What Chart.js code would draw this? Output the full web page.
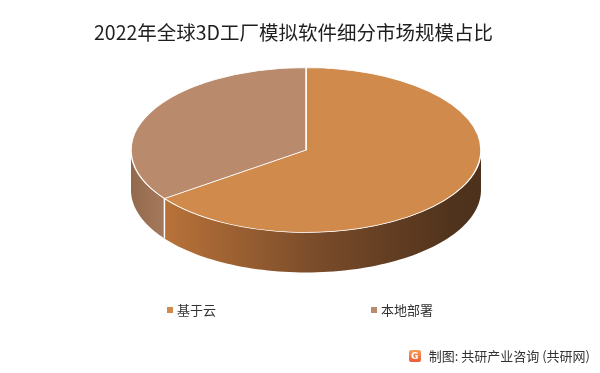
<!DOCTYPE html>
<html><head><meta charset="utf-8">
<script src="https://cdn.jsdelivr.net/npm/chart.js@4"></script>
<style>
html,body{margin:0;padding:0;background:#fff;}
#wrap{position:relative;width:600px;height:373px;font-family:"Noto Sans CJK SC","Noto Sans",sans-serif;overflow:hidden;}
#c{position:absolute;left:0;top:0;}
#title{position:absolute;left:0;width:587px;top:18px;text-align:center;font-size:19.5px;line-height:28px;color:#1e1e1e;}
#legend{position:absolute;left:0;width:600px;top:300px;display:flex;justify-content:center;gap:155px;font-size:13px;color:#333;}
.item{display:flex;align-items:center;}
.sw{width:6px;height:6px;margin-right:4px;}
#credit{position:absolute;right:10px;top:346px;font-size:13px;color:#333;display:flex;align-items:center;}
.logo{width:12px;height:12px;border-radius:2px;background:linear-gradient(#f9a05a,#ec5a38);color:#fff;font:bold 9px "DejaVu Sans",sans-serif;display:flex;align-items:center;justify-content:center;margin-right:8px;}
</style></head>
<body>
<div id="wrap">
<canvas id="c" width="600" height="373"></canvas>
<div id="title"></div>
<div id="legend"></div>
<div id="credit"><span class="logo">G</span><span id="creditText"></span></div>
</div>
<script>
const categories = ['基于云', '本地部署'];
const shares = [65, 35];
const topColors = ['#D08A4C', '#BA8A6C'];
const sideStops = [
  [[0, '#c07a40'], [0.1, '#b87239'], [0.55, '#774a29'], [0.9, '#52341d'], [1, '#4d311c']],
  [[0, '#93694d'], [0.1, '#a57a5c'], [1, '#a57a5c']]
];
const titleText = '2022年全球3D工厂模拟软件细分市场规模占比';
const creditText = '制图: 共研产业咨询 (共研网)';

const TILT = 0.471, DEPTH = 40;

const pie3d = {
  id: 'pie3d',
  beforeDatasetsDraw(chart) {
    const ctx = chart.ctx;
    const arcs = chart.getDatasetMeta(0).data;
    if (!arcs.length) { ctx.save(); return; }
    const cx = arcs[0].x, cy = arcs[0].y, r = arcs[0].outerRadius;
    const ry = r * TILT;
    const P = (t, d) => [cx + r * Math.cos(t), cy + ry * Math.sin(t) + d];
    arcs.forEach((arc, i) => {
      [0, 2 * Math.PI].forEach(off => {
        const a = Math.max(arc.startAngle, off), b = Math.min(arc.endAngle, off + Math.PI);
        if (b <= a) return;
        const g = ctx.createLinearGradient(cx - r, 0, cx + r, 0);
        sideStops[i].forEach(s => g.addColorStop(s[0], s[1]));
        const n = 80;
        ctx.beginPath();
        for (let k = 0; k <= n; k++) { const p = P(a + (b - a) * k / n, 0); k ? ctx.lineTo(p[0], p[1]) : ctx.moveTo(p[0], p[1]); }
        for (let k = n; k >= 0; k--) { const p = P(a + (b - a) * k / n, DEPTH); ctx.lineTo(p[0], p[1]); }
        ctx.closePath();
        ctx.fillStyle = g;
        ctx.fill();
      });
    });
    ctx.strokeStyle = '#ffffff';
    ctx.lineWidth = 1.5;
    arcs.forEach(arc => {
      const t = arc.endAngle % (2 * Math.PI);
      if (t > 0 && t < Math.PI) {
        const p = P(t, 0), q = P(t, DEPTH);
        ctx.beginPath(); ctx.moveTo(p[0], p[1]); ctx.lineTo(q[0], q[1]); ctx.stroke();
      }
    });
    ctx.save();
    ctx.translate(cx, cy);
    ctx.scale(1, TILT);
    ctx.translate(-cx, -cy);
  },
  afterDatasetsDraw(chart) { chart.ctx.restore(); }
};

new Chart(document.getElementById('c'), {
  type: 'pie',
  data: {
    labels: categories,
    datasets: [{
      data: shares,
      backgroundColor: topColors,
      borderColor: '#ffffff',
      borderWidth: 1.5,
      clip: false
    }]
  },
  options: {
    responsive: false,
    animation: false,
    radius: 175,
    layout: { padding: { left: 12, right: 0, top: 54, bottom: 127 } },
    plugins: {
      legend: { display: false },
      tooltip: { enabled: false },
      title: { display: false }
    }
  },
  plugins: [pie3d]
});

document.getElementById('title').textContent = titleText;
const lg = document.getElementById('legend');
categories.forEach((c, i) => {
  const it = document.createElement('div'); it.className = 'item';
  const sw = document.createElement('span'); sw.className = 'sw'; sw.style.background = topColors[i];
  const tx = document.createElement('span'); tx.textContent = c;
  it.appendChild(sw); it.appendChild(tx); lg.appendChild(it);
});
document.getElementById('creditText').textContent = creditText;
</script>
</body></html>
